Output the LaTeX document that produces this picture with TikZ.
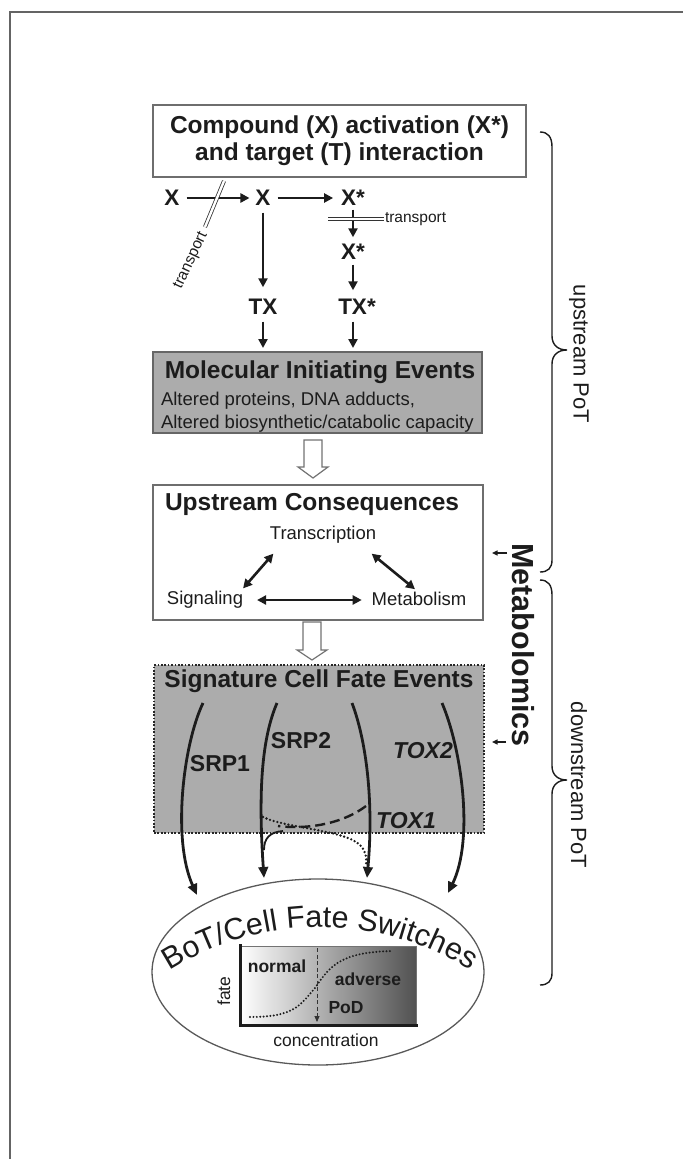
\documentclass[tikz,border=0pt]{standalone}
\usepackage{fontspec}
\setmainfont{Liberation Sans}
\usetikzlibrary{arrows.meta,decorations.text,shapes.geometric,calc}
\definecolor{txt}{RGB}{28,28,28}
\definecolor{boxgray}{RGB}{172,172,172}
\definecolor{framegray}{RGB}{100,100,100}
\definecolor{edgegray}{RGB}{110,110,110}
\newcommand\myTitle{\fontsize{24.5}{27}\selectfont\bfseries}
\newcommand\myBody{\fontsize{18.5}{23}\selectfont}
\newcommand\myX{\fontsize{22.5}{24}\selectfont\bfseries}
\newcommand\myLab{\fontsize{23}{25}\selectfont\bfseries}
\newcommand\mySmall{\fontsize{15.5}{16}\selectfont}
\newcommand\myBrace{\fontsize{22}{24}\selectfont}
\newcommand\myMeta{\fontsize{30.5}{32}\selectfont\bfseries}
\newcommand\myChart{\fontsize{17.5}{19}\selectfont}
\newcommand\myChartB{\fontsize{17.5}{19}\selectfont\bfseries}
\newcommand\myArc{\fontsize{30.5}{31}\selectfont\color{txt}}
\begin{document}
\begin{tikzpicture}[x=1pt,y=-1pt,
  every node/.style={text=txt, inner sep=2pt, outer sep=0pt},
  arr/.style={line width=2.6pt, draw=txt, -{Triangle[length=9pt,width=9pt]}},
  dbl/.style={line width=2.6pt, draw=txt, {Triangle[length=9pt,width=9pt]}-{Triangle[length=9pt,width=9pt]}},
  curv/.style={line width=2.8pt, draw=txt, -{Triangle[length=11pt,width=9.5pt]}},
  hollow/.style={draw=black!55, fill=white, line width=1.2pt, line join=miter},
  tline/.style={double=white, double distance=2.4pt, line width=0.8pt, draw=black!80},
  dotline/.style={line width=2.6pt, draw=txt, line cap=round, dash pattern=on 0pt off 3.8pt},
  dashline/.style={line width=2.4pt, draw=txt, dash pattern=on 10pt off 5pt},
  bracepath/.style={line width=1.4pt, draw=txt},
  smallarr/.style={line width=1.3pt, draw=txt, -{Triangle[length=5.5pt,width=5pt]}}
]
\useasboundingbox (0,0) rectangle (683,1159);
% outer frame (left and top)
\draw[framegray, line width=1.6pt] (10,1159) -- (10,12) -- (683,12);

% ---------- top box ----------
\node[draw=edgegray, line width=1.2pt, minimum width=373pt, minimum height=72pt, align=center, font=\myTitle] (top) at (339.5,141) {Compound (X) activation (X*)\\and target (T) interaction};

\node[font=\myX] (xa) at (172,198) {X};
\node[font=\myX] (xb) at (263,198) {X};
\node[font=\myX] (xc) at (353,198) {X*};
\node[font=\myX] (xd) at (353,252) {X*};
\node[font=\myX] (tx) at (263,307) {TX};
\node[font=\myX] (txs) at (357,307) {TX*};

\draw[arr, shorten <=5pt, shorten >=4pt] (xa) -- (xb);
\draw[arr, shorten <=5pt, shorten >=6pt] (xb) -- (xc);
\draw[arr, shorten <=5pt, shorten >=10pt] (xb) -- (tx);
\draw[arr, shorten <=2pt, shorten >=5pt] (xc.south -| xd) -- (xd);
\draw[arr, shorten <=3pt, shorten >=7pt] (xd) -- (xd |- txs.north);

% transport marks
\coordinate (tpa1) at (224,181);
\coordinate (tpa2) at (205,227);
\draw[tline] (tpa1) -- (tpa2);
\node[font=\mySmall, rotate=65, anchor=east, inner sep=0pt] (tpl1) at (204,233) {transport};
\coordinate (tpb1) at (328,219);
\coordinate (tpb2) at (384,219);
\draw[tline] (tpb1) -- (tpb2);
\node[font=\mySmall, anchor=west, inner sep=0pt] (tpl2) at ($(tpb2)+(1,0)$) {transport};

% ---------- MIE ----------
\node[draw=black!60, fill=boxgray, line width=1.2pt, minimum width=329pt, minimum height=81pt] (mie) at (317.5,392.5) {};
\node[font=\myTitle] (mieT) at (320,372) {Molecular Initiating Events};
\node[font=\myBody, anchor=west, align=left] (mieB) at (159,412) {Altered proteins, DNA adducts,\\Altered biosynthetic/catabolic capacity};

\draw[arr, shorten <=5pt, shorten >=4pt] (tx.south) -- (tx.south |- mie.north);
\draw[arr, shorten <=5pt, shorten >=4pt] (txs.south -| xd) -- (xd |- mie.north);

% hollow arrow 1
\coordinate (ha1) at ($(mie.south)+(-4.5,7)$);
\draw[hollow] (ha1) ++(-9,0) -- ++(18,0) -- ++(0,27) -- ++(6,0) -- ++(-15,11) -- ++(-15,-11) -- ++(6,0) -- cycle;

% ---------- Upstream consequences ----------
\node[draw=edgegray, line width=1.2pt, minimum width=330pt, minimum height=135pt] (upc) at (318,552.5) {};
\node[font=\myTitle, anchor=west] (upcT) at (163,504) {Upstream Consequences};
\node[font=\myBody] (trans) at (323,535) {Transcription};
\node[font=\myBody] (sig) at (205,600) {Signaling};
\node[font=\myBody] (met) at (419,599) {Metabolism};
\draw[dbl] ($(trans.south west)+(5.5,8)$) -- ($(sig.north east)+(-2,-1)$);
\draw[dbl] ($(trans.south east)+(-6.5,8)$) -- ($(met.north)+(-4,-1)$);
\draw[dbl, shorten <=12pt, shorten >=8pt] (sig.east) -- (sig.east -| met.west);

% hollow arrow 2
\coordinate (ha2) at ($(upc.south)+(-6,2)$);
\draw[hollow] (ha2) ++(-9,0) -- ++(18,0) -- ++(0,28) -- ++(6,0) -- ++(-15,10) -- ++(-15,-10) -- ++(6,0) -- cycle;

% ---------- Signature cell fate events ----------
\node[draw=black!85, fill=boxgray, line width=2pt, dash pattern=on 1.7pt off 1.7pt, minimum width=330pt, minimum height=168pt] (sgb) at (319,749) {};
\node[font=\myTitle] (sgT) at (319,681) {Signature Cell Fate Events};

\coordinate (c1s) at (203,703);
\coordinate (c1e) at (197,895);
\coordinate (c2s) at (277,703);
\coordinate (c2e) at (264,878);
\coordinate (c3s) at (352,703);
\coordinate (c3e) at (367,878);
\coordinate (c4s) at (442,703);
\coordinate (c4e) at (448,893);

% dotted / dashed interactions
\draw[dotline] (263,817) .. controls (285,828) and (345,830) .. (360,845) .. controls (366,851) and (367,858) .. (366,866);
\draw[dashline] (366,806) .. controls (345,822) and (312,830) .. (278,826);
\draw[line width=1.8pt, draw=txt] (264,850) .. controls (264,838) and (270,832) .. (283,831);

\draw[curv] (c1s) .. controls (183,745) and (172,840) .. (c1e);
\draw[curv] (c2s) .. controls (262,738) and (258,790) .. (c2e);
\draw[curv] (c3s) .. controls (366,740) and (374,800) .. (c3e);
\draw[curv] (c4s) .. controls (462,750) and (474,840) .. (c4e);

\node[font=\myLab] (srp1) at (220,764) {SRP1};
\node[font=\myLab] (srp2) at (301,741) {SRP2};
\node[font=\myLab\itshape] (tox2) at (423,751) {TOX2};
\node[font=\myLab\itshape] (tox1) at (406,821) {TOX1};

% ---------- BoT / cell fate switches ----------
\node[draw=black!65, line width=1.3pt, ellipse, minimum width=332pt, minimum height=186pt, inner sep=0pt] (fate) at (318,972) {};
\coordinate (arcc) at (320,1207);
\path[decorate, decoration={text along path, text align=center, text={|\myArc|BoT/Cell Fate Switches}}] (arcc) ++(235:280) arc[start angle=235, end angle=305, radius=280];

\shade[left color=white, right color=black!68] (240,946) rectangle (416,1025);
\draw[black!55, line width=0.8pt] (240,946) -- (416,946) -- (416,1025);
\draw[line width=3pt, draw=txt] (240,944) -- (240,1025) -- (418,1025);
\draw[dotline, line width=2.2pt, dash pattern=on 0pt off 3.4pt] (250,1017) .. controls (295,1017) and (300,1005) .. (315,988) .. controls (330,966) and (340,952) .. (393,951);
\coordinate (pod1) at (317,948);
\coordinate (pod2) at (317,1022);
\draw[line width=1pt, draw=black!80, dash pattern=on 4pt off 2.5pt, -{Triangle[length=6pt,width=5pt]}] (pod1) -- (pod2);
\node[font=\myChartB] (nrm) at (277,966) {normal};
\node[font=\myChartB] (adv) at (368,979) {adverse};
\node[font=\myChartB] (pod) at (346,1008) {PoD};
\node[font=\myChart, rotate=90] (fax) at (224,991) {fate};
\node[font=\myChart] (cax) at (326,1040) {concentration};

% ---------- right side ----------
\draw[bracepath] (540,132) .. controls (548,132) and (552,137) .. (552,147) -- (552,336) .. controls (552,345) and (558,350) .. (567,350) .. controls (558,350) and (552,355) .. (552,364) -- (552,560) .. controls (552,568) and (548,572) .. (540,572);
\draw[bracepath] (540,580) .. controls (548,580) and (552,585) .. (552,595) -- (552,766) .. controls (552,775) and (558,780) .. (567,780) .. controls (558,780) and (552,785) .. (552,794) -- (552,973) .. controls (552,981) and (548,985) .. (540,985);
\node[font=\myBrace, rotate=-90] (upPoT) at (579,354) {upstream PoT};
\node[font=\myBrace, rotate=-90] (dnPoT) at (579,785) {downstream PoT};
\node[font=\myMeta, rotate=-90] (meta) at (523,645) {Metabolomics};
\coordinate (ma1) at (507,553);
\coordinate (ma1e) at (492,553);
\coordinate (ma2) at (506,742);
\coordinate (ma2e) at (492,742);
\draw[smallarr] (ma1) -- (ma1e);
\draw[smallarr] (ma2) -- (ma2e);
\end{tikzpicture}
\end{document}
